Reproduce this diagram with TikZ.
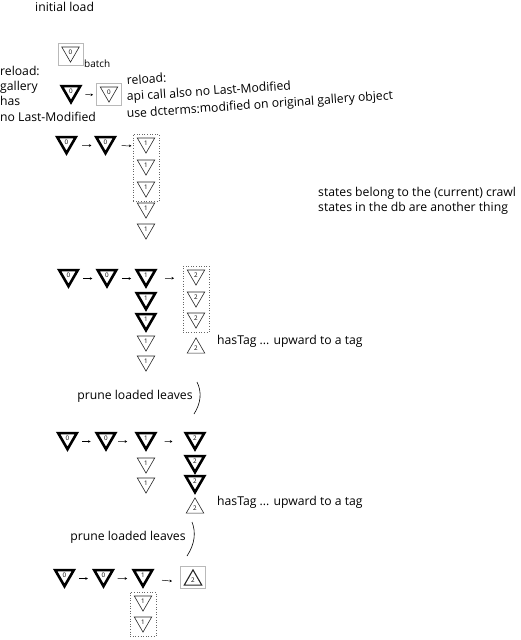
\documentclass[tikz,border=0pt]{standalone}
\usepackage{fontspec}
\setmainfont{Open Sans}
\usetikzlibrary{shapes.geometric,fit,calc,arrows.meta}
\begin{document}
\begin{tikzpicture}[x=1pt,y=-1pt,
  tri/.style={regular polygon, regular polygon sides=3, minimum size=20.2pt, inner sep=0pt, outer sep=0pt,
     draw=black!85, line width=0.6pt, font=\fontsize{6.3}{6.3}\selectfont, miter limit=10},
  dn/.style={tri, shape border rotate=180},
  uptri/.style={tri, shape border rotate=0},
  thk/.style={line width=2.6pt, draw=black, minimum size=21.4pt},
  med/.style={line width=1.1pt},
  gbox/.style={draw=gray!55, line width=0.6pt, inner xsep=6.5pt, inner ysep=3.5pt},
  dbox/.style={draw=gray!80!black, dotted, line width=0.6pt, inner xsep=7pt, inner ysep=4pt},
  txt/.style={font=\fontsize{12.2}{14}\selectfont, inner sep=0pt},
  arr/.style={-{Stealth[length=2.5pt,width=2.6pt]}, line width=0.5pt},
  brk/.style={line width=0.6pt}
]
\path[use as bounding box] (0,0) rectangle (520,640);

% texts
\node[txt, anchor=west] (init) at (35,7) {initial load};
\node[txt, anchor=north west, align=left, font=\fontsize{12.2}{15.2}\selectfont] (reloadA) at (0,66) {reload:\\gallery\\has\\no Last-Modified};
\node[txt, anchor=base west, rotate=4] (rB1) at (127,85) {reload:};
\node[txt, anchor=base west, rotate=4] (rB2) at (127,101) {api call also no Last-Modified};
\node[txt, anchor=base west, rotate=4] (rB3) at (127,118) {use dcterms:modified on original gallery object};
\node[txt, anchor=west] (st1) at (318,193) {states belong to the (current) crawl};
\node[txt, anchor=west] (st2) at (318,208) {states in the db are another thing};

% batch
\node[dn] (b0) at (70.5,52) {0};
\node[gbox, fit=(b0)] (bbox) {};
\node[txt, anchor=base west, font=\fontsize{10}{11}\selectfont] (batch) at (84,67) {batch};

% row 1
\node[dn,thk] (r1a) at (71,91.5) {0};
\node[dn] (r1b) at (109,92) {0};
\node[gbox, fit=(r1b)] (r1box) {};

% row 2
\node[dn,thk] (r2a) at (66.5,142.5) {0};
\node[dn,thk] (r2b) at (105.5,142.5) {0};
\node[dn] (r2c) at (146,143) {1};
\node[dn] (r2d) at (146,165) {1};
\node[dn] (r2e) at (146,187) {1};
\node[dn] (r2f) at (146,208) {1};
\node[dn] (r2g) at (146,229) {1};
\node[dbox, fit=(r2c)(r2e)] (r2box) {};

% row 3
\node[dn,thk] (r3a) at (68.5,275.5) {0};
\node[dn,thk] (r3b) at (107,275.5) {0};
\node[dn,thk] (r3c) at (146,275.5) {1};
\node[dn,thk] (r3d) at (146,298.5) {1};
\node[dn,thk] (r3e) at (146,319.5) {1};
\node[dn] (r3f) at (146,341) {1};
\node[dn] (r3g) at (146,361) {1};
\node[dn] (r3h) at (196,275) {2};
\node[dn] (r3i) at (196,297) {2};
\node[dn] (r3j) at (196,318) {2};
\node[uptri] (r3k) at (196,348) {2};
\node[dbox, fit=(r3h)(r3j)] (r3box) {};
\node[txt, anchor=west] (tag1) at (217,341) {hasTag ... upward to a tag};

\node[txt] (prune1) at (135,396) {prune loaded leaves};
\draw[brk] (197,382) .. controls (202,392) and (201,403) .. (194,414);

% row 4
\node[dn,thk] (r4a) at (67.5,438.5) {0};
\node[dn,thk] (r4b) at (106,438.5) {0};
\node[dn,thk] (r4c) at (146,438.5) {1};
\node[dn,thk] (r4d) at (195,438.5) {2};
\node[dn] (r4e) at (146,463) {1};
\node[dn] (r4f) at (146,483) {1};
\node[dn,thk] (r4g) at (195,461.5) {2};
\node[dn,thk] (r4h) at (195,481.5) {2};
\node[uptri] (r4i) at (195,508) {2};
\node[txt, anchor=west] (tag2) at (217,502) {hasTag ... upward to a tag};

\node[txt] (prune2) at (128,537) {prune loaded leaves};
\draw[brk] (192,522) .. controls (196,532) and (195,544) .. (187,556);

% row 5
\node[dn,thk] (r5a) at (64.5,575.5) {0};
\node[dn,thk] (r5b) at (103.5,575.5) {0};
\node[dn,thk] (r5c) at (143,575.5) {1};
\node[uptri,med] (r5d) at (193,580) {2};
\node[gbox, fit=(r5d)] (r5box) {};
\node[dn] (r5e) at (143,601) {1};
\node[dn] (r5f) at (143,622) {1};
\node[dbox, fit=(r5e)(r5f)] (r5dbox) {};

% arrows
\foreach \a/\b/\s/\e in {r1a/r1b/0.38/0.58, r2a/r2b/0.4/0.64, r2b/r2c/0.4/0.64,
   r3a/r3b/0.38/0.62, r3b/r3c/0.38/0.62, r3c/r3h/0.38/0.56,
   r4a/r4b/0.38/0.6, r4b/r4c/0.3/0.53, r4c/r4d/0.38/0.54,
   r5a/r5b/0.38/0.6, r5b/r5c/0.36/0.6, r5c/r5d/0.38/0.58}{
  \draw[arr] ([yshift=-3pt]$(\a)!\s!(\b)$) -- ([yshift=-3pt]$(\a)!\e!(\b)$);
}
\end{tikzpicture}
\end{document}
